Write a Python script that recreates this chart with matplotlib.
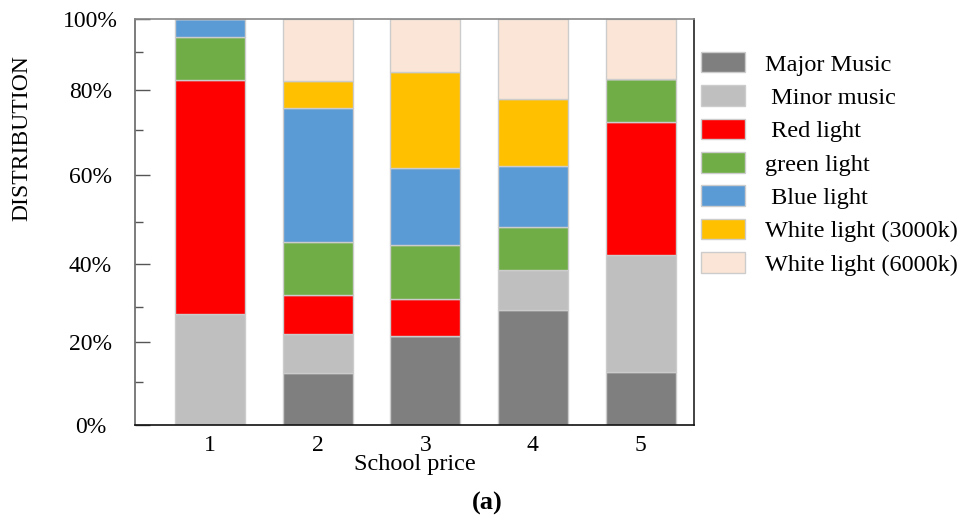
import numpy as np
import matplotlib.pyplot as plt

plt.rcParams['font.family'] = ['Liberation Serif', 'DejaVu Serif']

# bar categories
schools = ['1', '2', '3', '4', '5']

# share of each stimulus per school (in % of bar height)
major_music = [0.0, 12.8, 21.9, 28.3, 13.1]
minor_music = [27.3, 9.6, 0.0, 9.9, 28.8]
red_light = [57.7, 9.6, 9.1, 0.0, 32.7]
green_light = [10.6, 13.1, 13.4, 10.6, 10.6]
blue_light = [4.4, 33.0, 19.0, 15.0, 0.0]
white_3000 = [0.0, 6.6, 23.6, 16.5, 0.0]
white_6000 = [0.0, 15.3, 13.1, 19.7, 14.8]

# y tick positions as printed on the original axis
ytick_pos = [0, 20.4, 39.7, 61.6, 82.5, 100]
ytick_lab = ['0%', '20%', '40%', '60%', '80%', '100%']
yminor_pos = [10.6, 29.1, 50.0, 72.7, 91.9]

series = [
    ('Major Music', major_music, '#7f7f7f'),
    (' Minor music', minor_music, '#bfbfbf'),
    (' Red light', red_light, '#ff0000'),
    ('green light', green_light, '#70ad47'),
    (' Blue light', blue_light, '#5b9bd5'),
    ('White light (3000k)', white_3000, '#ffc000'),
    ('White light (6000k)', white_6000, '#fbe5d6'),
]

fig = plt.figure(figsize=(9.79, 5.20), dpi=100)
ax = fig.add_axes([0.1379, 0.1827, 0.571, 0.7808])

x = np.arange(1, len(schools) + 1)
bottom = np.zeros(len(schools))
for name, vals, col in series:
    vals = np.array(vals)
    ax.bar(x, vals, 0.65, bottom=bottom, color=col, edgecolor='#cccccc',
           linewidth=1.0, label=name)
    bottom += vals

ax.set_xlim(0.303, 5.497)
ax.set_ylim(0, 100)
ax.set_xticks(x)
ax.set_xticklabels(schools, fontsize=17)
ax.tick_params(axis='x', length=0, pad=7)
ax.set_yticks(ytick_pos)
ax.set_yticklabels(ytick_lab, fontsize=17, ha='center')
ax.set_yticks(yminor_pos, minor=True)
ax.tick_params(axis='y', which='major', direction='in', length=11, width=1,
               color='#555555', pad=32)
ax.tick_params(axis='y', which='minor', direction='in', length=6, width=1,
               color='#555555')

ax.spines['left'].set_color('#666666')
ax.spines['top'].set_color('#888888')
ax.spines['bottom'].set_color('#111111')
ax.spines['right'].set_color('#222222')
for s in ax.spines.values():
    s.set_linewidth(1.2)

ax.set_xlabel('School price', fontsize=17.5, labelpad=-1)
fig.text(22 / 979, 1 - 138 / 520, 'DISTRIBUTION', rotation=90, fontsize=17,
         ha='center', va='center')
fig.text(487 / 979, 1 - 503 / 520, '(a)', fontsize=19, fontweight='bold',
         ha='center', va='center')

fig.legend(loc='upper left', bbox_to_anchor=(701 / 979, 1 - 52 / 520),
           frameon=False, fontsize=17.5, handlelength=1.8, handleheight=0.92,
           handletextpad=0.85, labelspacing=0.4, borderpad=0,
           borderaxespad=0)

plt.savefig('out.png', dpi=100)
